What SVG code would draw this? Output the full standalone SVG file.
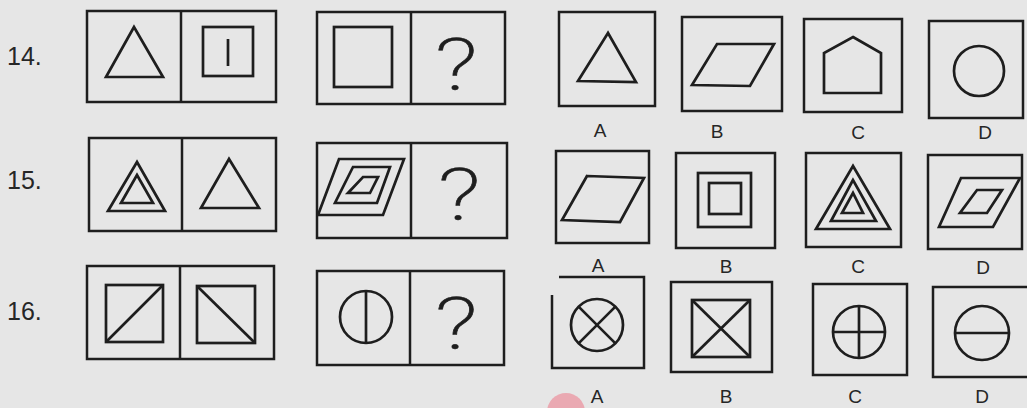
<svg xmlns="http://www.w3.org/2000/svg" width="1027" height="408" viewBox="0 0 1027 408">
<style>
.b{fill:none;stroke:#1e1e1e;stroke-width:2.5;stroke-linejoin:miter}
.s{fill:none;stroke:#1e1e1e;stroke-width:2.7;stroke-linejoin:miter}
.n{font-family:"Liberation Sans",Arial,sans-serif;font-size:25px;fill:#262626}
.l{font-family:"Liberation Sans",Arial,sans-serif;font-size:19px;fill:#262626;text-anchor:middle}
.q{font-family:Roboto,"DejaVu Sans",sans-serif;font-weight:200;font-size:72px;fill:#1e1e1e;stroke:#1e1e1e;stroke-width:0.6;text-anchor:middle}
</style>
<rect width="1027" height="408" fill="#e6e6e6"/>
<circle cx="566" cy="412" r="19" fill="#eaa9b2"/>

<g id="q14">
<text class="n" x="7" y="65">14.</text>
<g id="q14-fig1">
<rect class="b" x="87" y="11" width="189" height="91"/>
<line class="b" x1="181" y1="11" x2="181" y2="102"/>
<polygon class="s" points="134,27 106,77 163,77"/>
<rect class="s" x="203" y="27" width="50" height="49"/>
<line class="s" x1="228" y1="39" x2="228" y2="66"/>
</g>
<g id="q14-fig2">
<rect class="b" x="317" y="12" width="188" height="92"/>
<line class="b" x1="411" y1="12" x2="411" y2="104"/>
<rect class="s" x="334" y="27" width="58" height="60"/>
<text class="q" transform="translate(456,90) scale(1.35,1)">?</text>
</g>
<g id="q14-A">
<rect class="b" x="559" y="12" width="96" height="94"/>
<polygon class="s" points="608,33 578,81 636,82"/>
<text class="l" x="600" y="137">A</text>
</g>
<g id="q14-B">
<rect class="b" x="682" y="17" width="100" height="94"/>
<polygon class="s" points="717,44 774,44 750,86 692,85"/>
<text class="l" x="717" y="138">B</text>
</g>
<g id="q14-C">
<rect class="b" x="804" y="19" width="98" height="93"/>
<polygon class="s" points="853,37 881,53 881,93 824,93 824,53"/>
<text class="l" x="858" y="139">C</text>
</g>
<g id="q14-D">
<rect class="b" x="929" y="21" width="94" height="97"/>
<circle class="s" cx="979" cy="71" r="25"/>
<text class="l" x="985" y="139">D</text>
</g>
</g>

<g id="q15">
<text class="n" x="7" y="189">15.</text>
<g id="q15-fig1">
<rect class="b" x="89" y="138" width="187" height="93"/>
<line class="b" x1="182" y1="138" x2="182" y2="231"/>
<polygon class="s" points="137,162 108,211 165,211"/>
<polygon class="s" points="137,175 121,203 153,203"/>
<polygon class="s" points="229,159 201,208 259,208"/>
</g>
<g id="q15-fig2">
<rect class="b" x="317" y="143" width="190" height="95"/>
<line class="b" x1="411" y1="143" x2="411" y2="238"/>
<polygon class="s" points="339,159 404,159 383,215 318,215"/>
<polygon class="s" points="353,167 390,167 377,203 335,203"/>
<polygon class="s" points="363,177 378,177 370,193 348,193"/>
<text class="q" transform="translate(459,220) scale(1.35,1)">?</text>
</g>
<g id="q15-A">
<rect class="b" x="556" y="151" width="93" height="92"/>
<polygon class="s" points="587,176 644,178 620,222 562,220"/>
<text class="l" x="598" y="272">A</text>
</g>
<g id="q15-B">
<rect class="b" x="676" y="153" width="99" height="95"/>
<rect class="s" x="698" y="173" width="53" height="54"/>
<rect class="s" x="709" y="183" width="32" height="31"/>
<text class="l" x="726" y="273">B</text>
</g>
<g id="q15-C">
<rect class="b" x="806" y="153" width="95" height="94"/>
<polygon class="s" points="853,166 816,229 890,229"/>
<polygon class="s" points="853,180 831,221 876,221"/>
<polygon class="s" points="853,193 842,213 863,213"/>
<text class="l" x="858" y="273">C</text>
</g>
<g id="q15-D">
<rect class="b" x="928" y="155" width="94" height="94"/>
<polygon class="s" points="961,178 1020,178 993,227 939,227"/>
<polygon class="s" points="977,190 1002,190 987,213 960,213"/>
<text class="l" x="983" y="274">D</text>
</g>
</g>

<g id="q16">
<text class="n" x="7" y="320">16.</text>
<g id="q16-fig1">
<rect class="b" x="87" y="266" width="187" height="93"/>
<line class="b" x1="180" y1="266" x2="180" y2="359"/>
<rect class="s" x="106" y="285" width="57" height="57"/>
<line class="s" x1="106" y1="342" x2="163" y2="285"/>
<rect class="s" x="197" y="286" width="58" height="57"/>
<line class="s" x1="197" y1="286" x2="255" y2="343"/>
</g>
<g id="q16-fig2">
<rect class="b" x="317" y="271" width="187" height="94"/>
<line class="b" x1="410" y1="271" x2="410" y2="365"/>
<circle class="s" cx="366" cy="317" r="26"/>
<line class="s" x1="366" y1="291" x2="366" y2="343"/>
<text class="q" transform="translate(456,349) scale(1.35,1)">?</text>
</g>
<g id="q16-A">
<path class="b" d="M559,277 H644 V368 H552 V295"/>
<circle class="s" cx="597" cy="325" r="26"/>
<line class="s" x1="578.6" y1="306.6" x2="615.4" y2="343.4"/>
<line class="s" x1="615.4" y1="306.6" x2="578.6" y2="343.4"/>
<text class="l" x="597" y="403">A</text>
</g>
<g id="q16-B">
<rect class="b" x="671" y="282" width="101" height="90"/>
<rect class="s" x="692" y="300" width="58" height="57"/>
<line class="s" x1="692" y1="300" x2="750" y2="357"/>
<line class="s" x1="750" y1="300" x2="692" y2="357"/>
<text class="l" x="726" y="403">B</text>
</g>
<g id="q16-C">
<rect class="b" x="813" y="284" width="94" height="91"/>
<circle class="s" cx="859" cy="332" r="26"/>
<line class="s" x1="859" y1="306" x2="859" y2="358"/>
<line class="s" x1="833" y1="332" x2="885" y2="332"/>
<text class="l" x="855" y="403">C</text>
</g>
<g id="q16-D">
<rect class="b" x="933" y="287" width="96" height="90"/>
<circle class="s" cx="982" cy="333" r="27"/>
<line class="s" x1="955" y1="333" x2="1009" y2="333"/>
<text class="l" x="982" y="403">D</text>
</g>
</g>
</svg>
